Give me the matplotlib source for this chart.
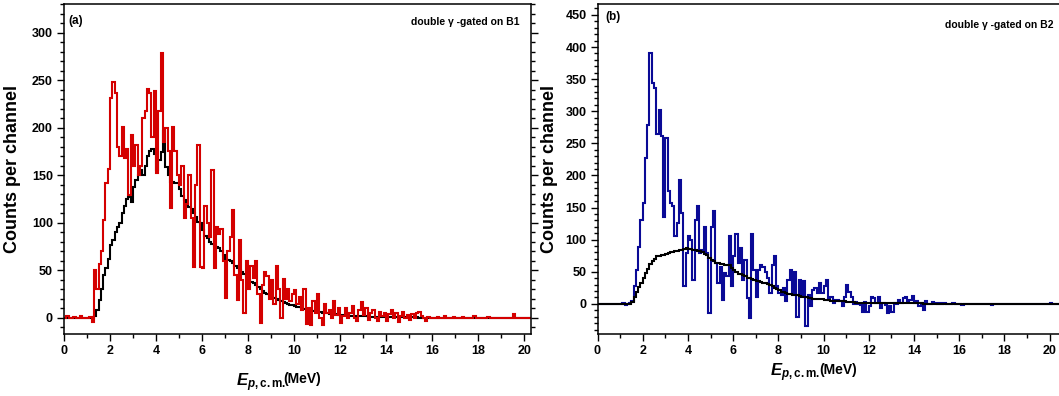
import numpy as np
import matplotlib
matplotlib.use("Agg")
import matplotlib.pyplot as plt
from matplotlib.ticker import MultipleLocator

plt.rcParams['font.family'] = ['Liberation Sans', 'DejaVu Sans']
plt.rcParams['font.weight'] = 'bold'
plt.rcParams['mathtext.fontset'] = 'custom'
plt.rcParams['mathtext.rm'] = 'Liberation Sans:bold'
plt.rcParams['mathtext.bf'] = 'Liberation Sans:bold'
plt.rcParams['mathtext.it'] = 'Liberation Sans:italic:bold'
plt.rcParams['mathtext.bfit'] = 'Liberation Sans:italic:bold'

# counts per 0.1 MeV channel, starting at 0 MeV
bin_width = 0.1

red_a = [
    0, 2, 0, 0, 1, 0, 0, 2, 0, 0,
    0, 1, -4, 50, 30, 57, 70, 103, 142, 157,
    231, 248, 236, 180, 170, 201, 168, 178, 129, 192,
    160, 182, 150, 160, 210, 217, 241, 236, 190, 238,
    152, 218, 278, 185, 200, 175, 115, 201, 175, 150,
    140, 160, 105, 120, 150, 105, 53, 140, 182, 53,
    52, 118, 100, 85, 155, 52, 95, 88, 93, 60,
    21, 70, 85, 113, 45, 19, 82, 40, 5, 60,
    30, 54, 42, 60, 25, -5, 35, 48, 44, 20,
    40, 15, 55, 30, 0, 41, 20, 30, 18, 25,
    29, 15, 22, 8, 30, -6, 10, -8, 18, 5,
    25, 0, -8, 15, 5, 8, 0, 18, 3, 10,
    -5, 2, 10, 0, 5, 12, 0, -3, 8, 17,
    3, 10, -2, 5, 8, 0, -3, 6, 2, 5,
    -3, 4, 8, 0, 5, -4, 2, 6, 0, 3,
    -2, 4, 0, 5, 6, 2, 0, -3, 1, 0,
    0, 0, 1, 0, 0, 2, 0, 0, 0, 1,
    0, 0, 0, 1, 0, 0, 0, 0, 2, 0,
    0, 0, 0, 0, 1, 0, 0, 0, 0, 0,
    0, 0, 0, 0, 0, 4, 0, 0, 0, 0,
    0, 0, 0, 0, 0,
]

black_a = [
    0, 0, 0, 0, 0, 0, 0, 0, 0, 0,
    0, 0, 0, 2, 8, 19, 30, 45, 52, 62,
    77, 82, 90, 95, 100, 110, 118, 125, 127, 122,
    138, 145, 150, 155, 150, 160, 170, 175, 178, 172,
    155, 166, 174, 196, 159, 150, 143, 143, 142, 142,
    135, 128, 124, 120, 117, 114, 110, 106, 101, 100,
    92, 86, 84, 80, 78, 76, 75, 73, 70, 66,
    62, 61, 60, 58, 55, 52, 50, 48, 46, 44,
    40, 38, 37, 35, 32, 30, 28, 26, 25, 24,
    22, 21, 20, 19, 18, 17, 16, 15, 14, 13,
    12, 11, 11, 10, 9, 9, 8, 8, 7, 7,
    6, 6, 5, 5, 5, 4, 4, 4, 4, 3,
    3, 3, 3, 3, 2, 2, 2, 2, 2, 2,
    2, 2, 1, 1, 1, 1, 1, 1, 1, 1,
    1, 1, 1, 1, 1, 1, 1, 1, 1, 1,
    1, 1, 1, 1, 0, 0, 0, 0, 0, 0,
    0, 0, 0, 0, 0, 0, 0, 0, 0, 0,
    0, 0, 0, 0, 0, 0, 0, 0, 0, 0,
    0, 0, 0, 0, 0, 0, 0, 0, 0, 0,
    0, 0, 0, 0, 0, 0, 0, 0, 0, 0,
    0, 0, 0, 0, 0,
]

blue_b = [
    0, 0, 0, 0, 0, 0, 0, 0, 0, 0,
    0, 1, -2, 0, 2, 4, 27, 53, 89, 131,
    157, 227, 279, 390, 344, 336, 265, 302, 261, 136,
    258, 175, 157, 152, 105, 126, 193, 141, 27, 79,
    105, 100, 37, 131, 152, 79, 84, 120, 79, -14,
    120, 144, 63, 32, 58, 6, 48, 43, 105, 27,
    74, 108, 63, 87, 37, 69, 9, -22, 108, 53,
    11, 53, 61, 58, 50, 40, 17, 61, 74, 27,
    17, 14, 24, 4, 37, 53, 17, 50, -20, 37,
    14, 35, -35, 14, -4, 22, 24, 17, 32, 17,
    27, 37, 6, 11, 1, 6, 6, 4, -4, 11,
    30, 19, 11, 0, 3, 0, -2, -12, 3, -13,
    -4, 10, 9, 2, 11, -7, 2, -2, -15, -4,
    -12, 2, 0, 6, 1, 9, 11, 3, 6, 12,
    2, 5, -4, 1, -9, 5, 0, 0, 3, 1,
    0, 2, 0, 1, 0, -1, 0, 1, 0, 0,
    0, -2, 0, 0, 0, 0, 0, -1, 0, 0,
    0, 0, 0, 0, -2, 0, 0, 0, 0, 0,
    0, 0, 0, 0, 0, 0, 0, 0, 0, 0,
    0, 0, 0, 0, 0, 0, 0, 0, 0, 0,
    2, 0, 0, 0, 0,
]

black_b = [
    0, 0, 0, 0, 0, 0, 0, 0, 0, 0,
    0, 0, 0, 0, 0, 3, 10, 18, 26, 32,
    40, 48, 55, 62, 66, 70, 74, 75, 76, 76,
    78, 79, 80, 81, 82, 82, 84, 84, 86, 87,
    86, 85, 84, 84, 83, 82, 80, 78, 76, 72,
    69, 66, 63, 63, 62, 62, 61, 61, 60, 56,
    53, 50, 47, 46, 45, 43, 41, 40, 38, 37,
    36, 35, 34, 33, 32, 31, 30, 27, 25, 23,
    21, 19, 18, 17, 16, 15, 14, 14, 13, 12,
    11, 10, 10, 9, 9, 8, 8, 7, 7, 7,
    6, 6, 6, 5, 5, 5, 5, 4, 4, 4,
    3, 3, 3, 3, 2, 2, 2, 2, 2, 2,
    2, 2, 1, 1, 1, 1, 1, 1, 1, 1,
    1, 1, 1, 1, 1, 1, 1, 1, 1, 1,
    1, 1, 1, 1, 0, 0, 0, 0, 0, 0,
    0, 0, 0, 0, 0, 0, 0, 0, 0, 0,
    0, 0, 0, 0, 0, 0, 0, 0, 0, 0,
    0, 0, 0, 0, 0, 0, 0, 0, 0, 0,
    0, 0, 0, 0, 0, 0, 0, 0, 0, 0,
    0, 0, 0, 0, 0, 0, 0, 0, 0, 0,
    0, 0, 0, 0, 0,
]

e_label = r'$\mathbfit{E}_{\mathbfit{p}\mathbf{,c.m.}}$'
unit_label = '(MeV)'


def edges(vals):
    return np.arange(len(vals) + 1) * bin_width


def style_axes(ax, ymaj, right_ticks):
    for s in ax.spines.values():
        s.set_linewidth(1.1)
    ax.xaxis.set_major_locator(MultipleLocator(2))
    ax.xaxis.set_minor_locator(MultipleLocator(1))
    ax.yaxis.set_major_locator(MultipleLocator(ymaj))
    ax.yaxis.set_minor_locator(MultipleLocator(10))
    ax.tick_params(which='both', direction='out', top=False, right=right_ticks,
                   labelsize=9, width=1, pad=3)
    ax.tick_params(which='major', length=5)
    ax.tick_params(which='minor', length=3)
    for lab in ax.get_xticklabels() + ax.get_yticklabels():
        lab.set_fontweight('bold')


def x_label(ax, x0, y0, x1, y1):
    ax.text(x0, y0, e_label, transform=ax.transAxes, fontsize=12,
            ha='left', va='baseline', clip_on=False)
    ax.text(x1, y1, unit_label, transform=ax.transAxes, fontsize=10,
            fontweight='bold', ha='left', va='baseline', clip_on=False)


fig = plt.figure(figsize=(10.59, 3.96), dpi=100)

# panel (a)
ax1 = fig.add_axes([64 / 1059, 1 - 334 / 396, 467 / 1059, 330 / 396])
ax1.stairs(black_a, edges(black_a), color='black', lw=1.5, baseline=None)
ax1.stairs(red_a, edges(red_a), color='#d40000', lw=1.5, baseline=None)
ax1.set_xlim(0, 20.3)
ax1.set_ylim(-17, 330)
style_axes(ax1, 50, True)
ax1.set_ylabel('Counts per channel', fontsize=13, fontweight='bold')
ax1.yaxis.set_label_coords(-0.092, 0.5)
x_label(ax1, 0.368, -0.158, 0.469, -0.150)
ax1.text(0.009, 0.968, '(a)', transform=ax1.transAxes, fontsize=8.5,
         fontweight='bold', va='top', ha='left')
ax1.text(0.975, 0.96, 'double γ -gated on B1', transform=ax1.transAxes,
         fontsize=7.5, fontweight='bold', va='top', ha='right')

# panel (b)
ax2 = fig.add_axes([597.5 / 1059, 1 - 334 / 396, 463 / 1059, 330 / 396])
ax2.stairs(blue_b, edges(blue_b), color='#0a0a96', lw=1.5, baseline=None)
ax2.stairs(black_b, edges(black_b), color='black', lw=1.5, baseline=None)
ax2.set_xlim(0, 463 / 22.6)
ax2.set_ylim(-47, 467)
style_axes(ax2, 50, False)
ax2.set_ylabel('Counts per channel', fontsize=13, fontweight='bold')
ax2.yaxis.set_label_coords(-0.085, 0.5)
x_label(ax2, 0.3726, -0.127, 0.479, -0.122)
ax2.text(0.016, 0.978, '(b)', transform=ax2.transAxes, fontsize=8.5,
         fontweight='bold', va='top', ha='left')
ax2.text(0.985, 0.95, 'double γ -gated on B2', transform=ax2.transAxes,
         fontsize=7.5, fontweight='bold', va='top', ha='right')

fig.savefig('out.png', dpi=100)
